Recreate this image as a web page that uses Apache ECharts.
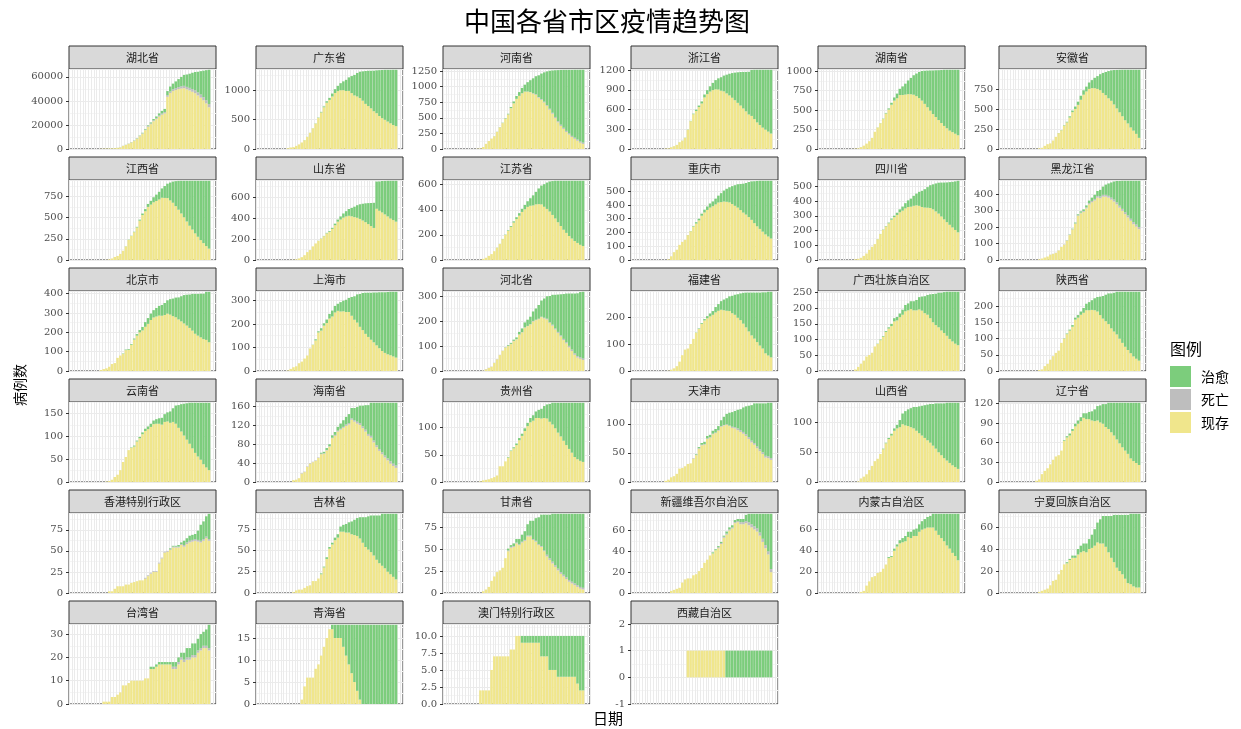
<!DOCTYPE html>
<html>
<head>
<meta charset="utf-8">
<script src="https://cdn.jsdelivr.net/npm/echarts@6/dist/echarts.min.js"></script>
</head>
<body style="margin:0;background:#fff">
<div id="chart" style="width:1241px;height:729px"></div>
<script>
// 日期 1-09 ... 3-01（x 轴不显示标签，最后两天无数据）
var dates = ['01-09','01-10','01-11','01-12','01-13','01-14','01-15','01-16','01-17','01-18','01-19',
  '01-20','01-21','01-22','01-23','01-24','01-25','01-26','01-27','01-28','01-29','01-30','01-31',
  '02-01','02-02','02-03','02-04','02-05','02-06','02-07','02-08','02-09','02-10','02-11','02-12','02-13','02-14',
  '02-15','02-16','02-17','02-18','02-19','02-20','02-21','02-22','02-23','02-24','02-25','02-26','02-27','02-28',
  '02-29','03-01'];
var firstDay = 11; // 下面各行数据从 01-20 开始

var provinces = ['湖北省','广东省','河南省','浙江省','湖南省','安徽省',
  '江西省','山东省','江苏省','重庆市','四川省','黑龙江省',
  '北京市','上海市','河北省','福建省','广西壮族自治区','陕西省',
  '云南省','海南省','贵州省','天津市','山西省','辽宁省',
  '香港特别行政区','吉林省','甘肃省','新疆维吾尔自治区','内蒙古自治区','宁夏回族自治区',
  '台湾省','青海省','澳门特别行政区','西藏自治区'];

// y 轴刻度间隔
var yStep = [20000,500,250,300,250,250, 250,200,200,100,100,100, 100,100,100,100,50,50,
  50,40,50,50,50,30, 25,25,25,20,20,20, 10,5,2.5,1];

// 累计确诊
var confirmedRows = [
  [198,270,375,444,549,729,1052,1423,2714,3554, 4586,5806,7153,9074,11177,13522,16678,19665,22112,24953,
   27100,29631,31728,33366,48206,51986,54406,56249,58182,59989, 61682,62031,62662,63454,64084,64287,64786,65187,65596,65914],
  [14,26,32,53,78,111,151,207,277,354, 436,535,632,725,813,870,944,1018,1075,1120,
   1151,1177,1219,1241,1261,1294,1316,1322,1328,1331, 1332,1333,1339,1342,1345,1347,1347,1347,1348,1348],
  [0,5,9,32,83,128,168,206,278,352, 422,493,566,675,764,851,914,981,1033,1073,
   1105,1135,1169,1184,1212,1231,1246,1257,1262,1265, 1267,1270,1271,1271,1271,1271,1272,1272,1272,1272],
  [0,5,10,27,43,62,104,128,173,296, 428,538,599,661,724,829,895,954,1006,1048,
   1075,1092,1117,1131,1145,1155,1162,1167,1171,1172, 1173,1175,1203,1205,1205,1205,1205,1205,1205,1205],
  [0,1,4,9,24,43,69,100,143,221, 277,332,389,463,521,593,661,711,772,803,
   838,879,912,946,968,988,1001,1004,1006,1007, 1008,1010,1011,1013,1016,1016,1016,1016,1016,1016],
  [0,0,1,9,15,39,60,70,106,152, 200,237,297,340,408,480,530,591,665,733,
   779,830,860,889,910,934,950,962,973,982, 986,987,988,989,989,989,989,989,989,989],
  [0,0,2,7,18,36,48,72,109,162, 240,286,333,391,476,548,600,661,698,740,
   771,804,844,872,900,913,925,930,933,934, 934,934,934,934,934,934,934,934,934,934],
  [0,1,2,6,15,27,46,75,95,130, 158,184,206,230,259,275,307,347,386,416,
   444,466,487,497,509,523,532,537,541,543, 544,546,749,750,754,755,756,756,756,756],
  [0,0,1,9,18,33,47,70,99,129, 168,202,236,271,308,341,373,408,439,468,
   492,515,543,570,593,604,617,626,629,631, 631,631,631,631,631,631,631,631,631,631],
  [0,0,5,27,57,75,110,132,147,182, 211,247,275,300,337,366,389,411,426,446,
   468,486,505,518,529,537,544,551,553,555, 560,567,572,573,575,576,576,576,576,576],
  [0,0,5,8,15,28,44,69,90,108, 142,177,207,231,254,282,301,321,344,363,
   386,405,417,436,451,463,470,481,495,508, 514,520,525,526,526,527,529,531,534,538],
  [0,0,0,4,9,15,21,33,38,44, 59,80,95,121,155,190,227,277,295,307,
   331,360,378,395,418,425,445,457,464,470, 476,479,479,480,480,480,480,480,480,480],
  [5,10,14,22,36,41,68,80,91,111, 114,139,168,191,212,228,253,274,297,315,
   326,337,342,352,366,372,375,380,381,387, 393,395,396,399,399,399,400,400,410,410],
  [2,9,16,20,33,40,53,66,96,112, 135,169,182,203,219,243,257,277,286,293,
   299,303,311,315,318,326,328,332,333,333, 333,334,334,335,335,335,336,337,337,337],
  [0,0,0,2,8,13,18,33,48,65, 82,96,104,113,126,135,157,171,195,206,
   218,239,251,265,283,291,300,301,306,306, 307,308,309,311,311,311,311,312,317,318],
  [0,0,1,5,10,18,35,59,80,84, 101,120,144,159,179,194,205,215,224,239,
   250,261,267,272,279,281,285,287,290,292, 293,293,293,293,293,293,294,294,296,296],
  [0,0,5,13,23,33,46,51,58,78, 87,100,111,127,139,150,168,172,183,195,
   210,215,222,222,226,235,237,238,242,244, 245,246,249,249,251,252,252,252,252,252],
  [0,0,0,3,5,15,22,35,46,56, 63,87,101,116,128,142,165,173,184,195,
   208,213,219,225,229,230,232,236,240,240, 242,245,245,245,245,245,245,245,245,245],
  [0,0,1,2,5,11,16,26,44,55, 70,76,80,91,99,109,117,122,128,135,
   138,140,141,149,153,155,162,168,169,171, 172,173,174,174,174,174,174,174,174,174],
  [0,0,4,5,8,19,22,33,40,43, 46,52,62,64,72,80,99,106,117,124,
   131,138,144,157,157,159,162,162,163,163, 168,168,168,168,168,168,168,168,168,168],
  [0,0,1,3,4,5,7,9,12,29, 29,38,46,58,64,71,81,89,99,109,
   118,123,130,133,135,140,143,144,146,146, 146,146,146,146,146,146,146,146,146,146],
  [0,2,4,8,10,14,23,24,27,31, 32,41,48,60,67,69,79,81,88,91,
   96,106,112,117,119,120,122,124,125,128, 130,131,132,135,135,135,135,135,136,136],
  [0,0,0,1,6,9,13,20,27,35, 39,47,56,66,74,81,90,96,104,115,
   119,122,124,126,126,127,128,129,130,131, 131,132,132,132,132,133,133,133,133,133],
  [0,0,2,4,12,17,21,27,34,39, 41,48,64,70,74,81,89,94,99,105,
   105,107,108,111,116,117,119,119,121,121, 121,121,121,121,121,121,121,121,121,121],
  [0,0,0,2,2,5,8,8,8,10, 10,12,13,14,15,15,18,21,24,26,
   26,36,42,49,50,53,56,56,57,60, 62,65,68,69,70,74,81,85,91,94],
  [0,0,1,3,4,4,6,8,9,14, 14,17,23,31,42,54,59,65,69,78,
   80,81,83,84,86,88,89,89,89,90, 91,91,91,91,93,93,93,93,93,93],
  [0,0,0,2,4,7,14,19,24,26, 29,40,51,55,57,62,62,67,71,79,
   83,83,86,87,90,90,90,90,91,91, 91,91,91,91,91,91,91,91,91,91],
  [0,0,0,2,3,4,5,10,13,14, 14,17,18,21,24,29,32,36,39,42,
   45,49,55,59,63,65,70,71,71,71, 75,76,76,76,76,76,76,76,76,76],
  [0,0,0,0,1,2,7,11,15,16, 19,20,23,27,34,35,42,46,50,52,
   54,58,58,60,61,65,68,70,72,73, 75,75,75,75,75,75,75,75,75,75],
  [0,0,0,1,2,3,4,7,11,12, 17,21,26,28,31,34,34,40,43,45,
   45,49,53,58,64,67,70,70,70,70, 71,71,71,71,71,71,72,72,72,72],
  [0,1,1,1,3,3,4,5,8,8, 9,10,10,10,10,10,11,11,16,16,
   17,18,18,18,18,18,18,18,20,22, 22,24,24,26,26,28,30,31,32,34],
  [0,0,0,0,0,1,4,6,6,6, 8,9,11,13,15,17,18,18,18,18,
   18,18,18,18,18,18,18,18,18,18, 18,18,18,18,18,18,18,18,18,18],
  [0,0,2,2,2,2,5,7,7,7, 7,7,7,8,8,10,10,10,10,10,
   10,10,10,10,10,10,10,10,10,10, 10,10,10,10,10,10,10,10,10,10],
  [0,0,0,0,0,0,0,0,0,1, 1,1,1,1,1,1,1,1,1,1,
   1,1,1,1,1,1,1,1,1,1, 1,1,1,1,1,1,1,1,1,1]
];

// 累计治愈
var curedRows = [
  [25,25,28,28,31,32,42,44,47,80, 90,116,166,215,300,400,520,630,820,1120,
   1440,1800,2220,2640,3440,4130,4770,5620,6640,7860, 9130,10340,11790,13560,15300,17200,19500,22000,25000,28500],
  [0,0,0,0,0,0,2,2,2,2, 4,6,10,15,25,35,50,65,90,120,
   150,190,230,290,350,400,450,500,560,600, 640,690,730,780,820,850,880,910,940,960],
  [0,0,0,0,0,0,0,1,2,3, 5,7,10,18,30,45,60,85,110,150,
   190,240,290,350,410,470,540,610,680,750, 820,880,930,980,1020,1060,1090,1120,1150,1170],
  [0,0,0,0,1,1,1,1,3,3, 5,9,21,23,32,44,60,80,110,140,
   170,205,240,285,330,375,420,465,510,555, 600,650,700,750,800,840,880,910,940,970],
  [0,0,0,0,0,0,0,0,0,0, 2,2,5,8,15,25,40,60,80,110,
   140,175,210,250,290,335,380,425,470,515, 560,600,640,680,720,750,780,800,820,840],
  [0,0,0,0,0,0,0,0,0,0, 2,3,5,8,15,20,30,40,50,55,
   60,80,100,130,160,200,250,290,340,380, 430,480,530,580,630,670,720,760,800,850],
  [0,0,0,0,0,0,0,0,0,2, 3,3,5,8,12,18,25,35,45,60,
   75,90,110,140,170,210,250,295,340,385, 430,480,530,575,620,660,700,735,770,800],
  [0,0,0,0,0,0,0,0,0,0, 0,1,2,3,5,8,10,15,20,30,
   40,50,65,80,100,120,140,160,180,200, 220,240,260,280,300,320,340,360,375,390],
  [0,0,0,0,0,0,0,0,1,1, 2,3,5,7,10,15,20,25,35,45,
   60,80,100,125,150,180,210,240,270,300, 330,360,390,415,440,460,480,495,510,520],
  [0,0,0,0,0,0,0,0,0,1, 2,4,10,12,15,20,25,30,35,42,
   50,65,80,95,110,130,150,170,190,210, 230,255,280,305,330,350,370,390,405,420],
  [0,0,0,0,0,0,0,0,0,0, 1,1,2,3,5,8,10,15,20,28,
   35,45,55,68,80,95,110,125,140,155, 170,190,210,230,250,270,290,310,330,350],
  [0,0,0,0,0,0,0,0,0,0, 0,0,0,1,2,3,5,6,8,10,
   12,16,20,25,30,40,50,62,75,92, 110,130,150,170,190,210,230,250,265,280],
  [0,0,0,0,0,0,0,0,2,3, 4,4,5,8,12,18,24,30,33,38,
   44,50,56,62,69,80,91,102,114,130, 147,160,173,190,206,216,226,235,249,261],
  [0,0,0,0,0,0,0,0,0,1, 5,5,10,10,15,20,25,28,30,40,
   45,52,60,80,100,120,140,158,175,188, 200,212,225,238,250,258,265,270,275,280],
  [0,0,0,0,0,0,0,0,0,0, 0,1,3,4,5,7,10,15,20,25,
   30,38,45,55,65,77,90,105,120,135, 150,165,180,195,210,225,240,252,262,268],
  [0,0,0,0,0,0,0,0,0,0, 0,0,1,2,3,5,8,11,14,20,
   25,32,40,47,55,65,75,88,100,115, 130,145,160,172,185,198,210,228,238,245],
  [0,0,0,0,0,0,0,0,0,0, 1,2,2,3,4,7,10,11,12,16,
   20,22,25,29,33,39,45,54,63,76, 90,100,110,120,130,140,150,158,165,170],
  [0,0,0,0,0,0,0,0,0,0, 0,0,1,2,3,5,6,8,10,15,
   20,25,30,37,45,57,70,82,95,108, 120,132,145,158,170,180,190,200,207,213],
  [0,0,0,0,0,0,0,0,0,0, 0,1,2,2,3,4,5,6,7,8,
   10,12,15,17,20,25,30,40,50,60, 70,80,90,100,110,118,125,135,142,148],
  [0,0,0,0,0,0,0,0,0,0, 0,0,2,3,4,4,5,6,8,11,
   14,16,19,22,26,31,37,44,52,61, 70,80,90,98,105,112,118,124,129,133],
  [0,0,0,0,0,0,0,0,0,0, 0,0,1,1,2,3,4,4,5,6,
   8,10,12,15,18,22,26,33,40,47, 55,62,70,78,85,92,100,104,107,109],
  [0,0,0,0,0,0,0,0,0,0, 0,0,1,2,3,4,4,4,5,6,
   7,10,14,18,22,25,28,32,36,42, 48,54,61,68,74,79,84,90,92,95],
  [0,0,0,0,0,0,0,0,0,0, 0,0,1,1,2,3,4,6,12,18,
   24,28,32,36,40,45,50,55,60,65, 70,76,82,87,92,97,101,105,108,111],
  [0,0,0,0,0,0,0,0,0,0, 0,0,1,2,3,3,4,5,6,7,
   9,11,14,18,22,26,30,35,40,45, 50,56,62,68,73,78,85,89,92,95],
  [0,0,0,0,0,0,0,0,0,0, 0,0,0,0,0,0,0,0,0,0,
   0,0,0,0,0,1,1,1,2,2, 5,5,6,6,6,11,19,21,24,30],
  [0,0,0,0,0,0,0,0,0,0, 0,0,1,1,2,2,2,3,4,6,
   8,10,12,15,18,21,25,30,35,39, 43,47,52,56,61,64,68,71,74,77],
  [0,0,0,0,0,0,0,0,0,0, 0,0,2,2,3,4,6,8,10,13,
   17,21,26,31,36,41,46,50,55,59, 63,67,70,73,76,78,80,82,84,85],
  [0,0,0,0,0,0,0,0,0,0, 0,0,0,0,0,0,0,0,1,1,
   1,1,1,2,2,2,2,2,3,3, 6,8,10,12,14,18,24,30,36,53],
  [0,0,0,0,0,0,0,0,0,0, 0,0,0,0,1,1,2,2,3,4,
   5,5,6,6,7,7,8,9,10,11, 13,16,20,23,26,30,33,37,40,44],
  [0,0,0,0,0,0,0,0,0,0, 0,0,0,1,1,2,2,5,6,7,
   8,9,12,15,18,22,25,28,33,38, 43,48,51,54,58,62,64,66,67,67],
  [0,0,0,0,0,0,0,0,0,0, 0,0,0,0,0,0,0,0,1,1,
   1,1,1,1,1,1,2,2,2,2, 3,4,4,5,5,5,6,6,7,10],
  [0,0,0,0,0,0,0,0,0,0, 0,0,0,0,0,0,1,3,3,3,
   5,7,9,11,13,15,17,18,18,18, 18,18,18,18,18,18,18,18,18,18],
  [0,0,0,0,0,0,0,0,0,0, 0,0,0,0,0,0,0,1,1,1,
   1,1,1,1,3,3,3,5,5,5, 6,6,6,6,6,6,6,7,8,8],
  [0,0,0,0,0,0,0,0,0,0, 0,0,0,0,0,0,0,0,0,0,
   0,0,0,1,1,1,1,1,1,1, 1,1,1,1,1,1,1,1,1,1]
];

// 累计死亡（看得出的几个省份）
var deadRows = {
  '湖北省': [3,6,9,17,24,39,52,76,100,125, 162,204,249,294,350,414,479,549,618,699,
    780,871,974,1068,1310,1318,1457,1596,1696,1789, 1921,2029,2144,2250,2346,2495,2563,2615,2641,2682],
  '河南省': [0,0,0,0,0,0,1,1,2,2, 2,2,2,2,2,2,2,2,2,3, 4,6,8,10,13,13,13,16,16,19, 19,19,19,19,19,19,19,20,21,21],
  '黑龙江省': [0,0,0,0,0,0,0,1,1,1, 1,1,2,2,2,2,2,3,4,5, 6,7,8,9,10,11,11,11,11,12, 12,12,12,12,12,12,12,13,13,13],
  '河北省': [0,0,0,1,1,1,1,1,1,1, 1,1,1,1,1,1,1,1,1,1, 1,2,2,2,2,3,3,3,4,4, 4,4,5,5,6,6,6,6,6,6],
  '海南省': [0,0,0,0,0,1,1,1,1,1, 1,1,1,1,1,1,1,2,2,2, 2,3,3,3,3,4,4,4,4,4, 4,4,4,4,4,4,4,5,5,5],
  '天津市': [0,0,0,0,0,0,0,0,0,0, 0,1,1,1,1,1,1,1,1,1, 1,1,1,1,1,2,2,3,3,3, 3,3,3,3,3,3,3,3,3,3],
  '香港特别行政区': [0,0,0,0,0,0,0,0,0,0, 0,0,0,0,0,0,1,1,1,1, 1,1,1,1,1,1,1,1,1,1, 2,2,2,2,2,2,2,2,2,2],
  '甘肃省': [0,0,0,0,0,0,0,0,0,0, 0,0,1,1,1,1,1,1,1,1, 1,1,1,1,1,1,2,2,2,2, 2,2,2,2,2,2,2,2,2,2],
  '新疆维吾尔自治区': [0,0,0,0,0,0,0,0,0,0, 0,0,0,0,0,0,0,0,0,0, 1,1,1,1,1,1,1,1,2,2, 2,3,3,3,3,3,3,3,3,3],
  '台湾省': [0,0,0,0,0,0,0,0,0,0, 0,0,0,0,0,0,0,0,0,0, 0,0,0,0,0,0,1,1,1,1, 1,1,1,1,1,1,1,1,1,1]
};

// 面板位置
var colLeft = [69, 256, 443, 631, 818, 999];
var rowTop = [69, 180, 291, 402, 513, 624];
var panelW = 147, panelH = 80, stripH = 23;

var colors = { '治愈': '#7CCD7C', '死亡': '#BEBEBE', '现存': '#F0E68C' };
var cjk = '"Noto Sans CJK SC"';

function pad(row) {
  var out = [];
  for (var i = 0; i < firstDay; i++) out.push(0);
  return out.concat(row);
}

var grids = [], xAxes = [], yAxes = [], series = [], graphics = [];

provinces.forEach(function (name, p) {
  var c = p % 6, r = Math.floor(p / 6);
  var left = colLeft[c], top = rowTop[r];
  var conf = pad(confirmedRows[p]);
  var cured = pad(curedRows[p]);
  var dead = deadRows[name] ? pad(deadRows[name]) : conf.map(function () { return 0; });
  var live = conf.map(function (v, i) { return v - cured[i] - dead[i]; });
  var maxTotal = Math.max.apply(null, conf);
  var step = yStep[p];
  var yMin = 0, yMax = maxTotal * 1.01;
  if (name === '澳门特别行政区') yMax = 11.75;
  if (name === '西藏自治区') { yMin = -1; yMax = 2; }

  grids.push({ left: left, top: top, width: panelW, height: panelH, show: true,
    backgroundColor: '#fff', borderColor: '#333333', borderWidth: 1 });

  xAxes.push({ gridIndex: p, type: 'category', data: dates, boundaryGap: true,
    axisLine: { show: false }, axisTick: { show: false }, axisLabel: { show: false },
    splitLine: { show: true, interval: 0, lineStyle: { color: '#EBEBEB', width: 1 } } });

  yAxes.push({ gridIndex: p, type: 'value', min: yMin, max: yMax, interval: step,
    axisLine: { show: false },
    axisTick: { show: true, length: 3, lineStyle: { color: '#333333' } },
    axisLabel: { fontSize: 10, fontFamily: '"DejaVu Serif"', color: '#4D4D4D', margin: 6,
      showMaxLabel: name === '西藏自治区',
      formatter: function (v) { return step % 1 !== 0 ? v.toFixed(1) : String(v); } },
    splitLine: { show: true, lineStyle: { color: '#EBEBEB', width: 1 } },
    minorTick: { show: false, splitNumber: 2 },
    minorSplitLine: { show: true, lineStyle: { color: '#F5F5F5', width: 1 } } });

  [['现存', live], ['死亡', dead], ['治愈', cured]].forEach(function (s) {
    series.push({ name: s[0], type: 'bar', xAxisIndex: p, yAxisIndex: p, stack: 'p' + p,
      data: s[1], barCategoryGap: '10%', silent: true, itemStyle: { color: colors[s[0]] } });
  });

  graphics.push({ type: 'rect', shape: { x: left, y: top - stripH, width: panelW, height: stripH },
    style: { fill: '#D9D9D9', stroke: '#333333', lineWidth: 1 } });
  graphics.push({ type: 'text', x: left + panelW / 2, y: top - stripH / 2,
    style: { text: name, textAlign: 'center', textVerticalAlign: 'middle',
      font: '11px ' + cjk, fill: '#1A1A1A' } });
});

graphics.push({ type: 'text', x: 607, y: 21,
  style: { text: '中国各省市区疫情趋势图', textAlign: 'center', textVerticalAlign: 'middle',
    font: '26px ' + cjk, fill: '#000' } });
graphics.push({ type: 'text', x: 608, y: 718,
  style: { text: '日期', textAlign: 'center', textVerticalAlign: 'middle', font: '15px ' + cjk, fill: '#000' } });
graphics.push({ type: 'text', x: 20, y: 385, rotation: Math.PI / 2,
  style: { text: '病例数', textAlign: 'center', textVerticalAlign: 'middle', font: '14px ' + cjk, fill: '#000' } });
graphics.push({ type: 'text', x: 1170, y: 349,
  style: { text: '图例', textAlign: 'left', textVerticalAlign: 'middle', font: '16px ' + cjk, fill: '#000' } });

var chart = echarts.init(document.getElementById('chart'));
chart.setOption({
  animation: false,
  backgroundColor: '#fff',
  grid: grids,
  xAxis: xAxes,
  yAxis: yAxes,
  legend: { data: ['治愈', '死亡', '现存'], orient: 'vertical', left: 1170, top: 366,
    itemWidth: 21, itemHeight: 21, itemGap: 2, icon: 'rect', selectedMode: false, padding: 0,
    textStyle: { fontSize: 14, fontFamily: cjk, color: '#000', padding: [0, 0, 0, 5] } },
  graphic: graphics,
  series: series
});
</script>
</body>
</html>
